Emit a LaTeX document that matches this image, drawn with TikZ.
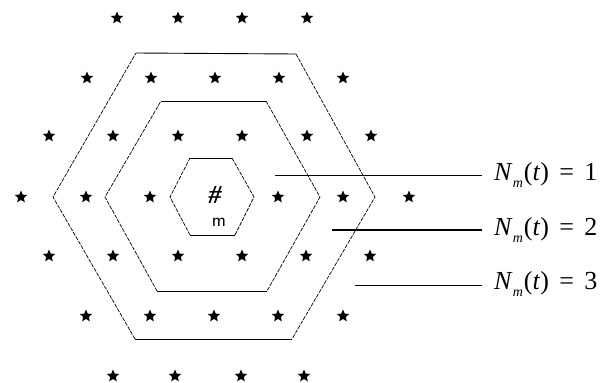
\documentclass[tikz,border=0pt]{standalone}
\usepackage{fontspec}
\setmainfont{Liberation Serif}
\newfontfamily\labfont{Liberation Serif}
\usetikzlibrary{shapes.geometric}
\newcommand{\nlab}[1]{\textit{N}\raisebox{-0.3em}{\fontsize{14}{15}\selectfont\textit{m}}\kern1pt(\textit{t})\hspace{0.4em}=\hspace{0.4em}#1}
\begin{document}
\begin{tikzpicture}[x=1pt,y=-1pt,
  starmark/.style={star,star points=5,star point ratio=2.2,minimum size=13pt,inner sep=0pt,fill=black,draw=none},
  slant/.style={line width=0.7pt,dash pattern=on 4pt off 1.2pt},
  flat/.style={line width=0.9pt},
  leader/.style={line width=0.8pt},
  lab/.style={anchor=west,inner sep=0pt,font=\labfont\fontsize{26}{28}\selectfont}]
\useasboundingbox (0,0) rectangle (606,383);
% stars
\foreach \x [count=\i] in {117,178,242,307} \node[starmark] (a\i) at (\x,18) {};
\foreach \x [count=\i] in {87,151,215,279,343} \node[starmark] (b\i) at (\x,78) {};
\foreach \x [count=\i] in {49,113,178,242,307,371} \node[starmark] (c\i) at (\x,136) {};
\foreach \x [count=\i] in {21,86,150,278,343,409} \node[starmark] (d\i) at (\x,197) {};
\foreach \x [count=\i] in {49,113,178,242,306,370} \node[starmark] (e\i) at (\x,256) {};
\foreach \x [count=\i] in {86,150,214,278,343} \node[starmark] (f\i) at (\x,316) {};
\foreach \x [count=\i] in {113,175,241,304} \node[starmark] (g\i) at (\x,376) {};
% centre
\node[font=\labfont\fontsize{26}{28}\selectfont\bfseries\itshape,inner sep=0pt] (hash) at (215,195) {\#};
\node[font=\sffamily\fontsize{19}{20}\selectfont,inner sep=0pt] (m) at (219,222) {m};
% inner hexagon
\coordinate (iL) at (170,197); \coordinate (iTL) at (190,158); \coordinate (iTR) at (232,158);
\coordinate (iR) at (254,197); \coordinate (iBR) at (235,235); \coordinate (iBL) at (190,235);
\draw[slant] (iBL) -- (iL) -- (iTL);
\draw[flat] (iTL) -- (iTR);
\draw[slant] (iTR) -- (iR) -- (iBR);
\draw[flat] (iBR) -- (iBL);
% middle hexagon
\coordinate (mL) at (105,197); \coordinate (mTL) at (161,101); \coordinate (mTR) at (266,101);
\coordinate (mR) at (320,197); \coordinate (mBR) at (267,291); \coordinate (mBL) at (157,291);
\draw[slant] (mBL) -- (mL) -- (mTL);
\draw[flat] (mTL) -- (mTR);
\draw[slant] (mTR) -- (mR) -- (mBR);
\draw[flat] (mBR) -- (mBL);
% outer hexagon
\coordinate (oL) at (53,197); \coordinate (oTL) at (136,53); \coordinate (oTR) at (296,54);
\coordinate (oR) at (375,197); \coordinate (oBR) at (292,339); \coordinate (oBL) at (135,339);
\draw[slant] (oBL) -- (oL) -- (oTL);
\draw[flat] (oTL) -- (oTR);
\draw[slant] (oTR) -- (oR) -- (oBR);
\draw[flat] (oBR) -- (oBL);
% labels
\node[lab] (l1) at (494,175) {\nlab{1}};
\node[lab] (l2) at (494,230) {\nlab{2}};
\node[lab] (l3) at (494,284) {\nlab{3}};
\coordinate (s1) at (275,175);
\coordinate (s2) at (332,230);
\coordinate (s3) at (355,285);
\draw[leader] (s1) -- ([xshift=-12pt]l1.west);
\draw[leader,line width=1.1pt] (s2) -- ([xshift=-12pt]l2.west);
\draw[leader] (s3) -- ([xshift=-12pt]l3.west |- s3);
\end{tikzpicture}
\end{document}
